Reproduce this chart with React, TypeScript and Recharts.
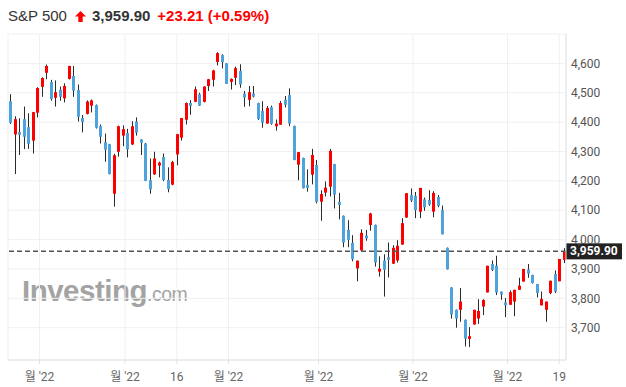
import React from 'react';
import { ComposedChart, Bar, XAxis, YAxis, CartesianGrid, ReferenceLine } from 'recharts';

// trading days, Jan 21 – Jul 20 2022
const tradingDays: [string, number[]][] = [
  ['01', [21, 24, 25, 26, 27, 28, 31]],
  ['02', [1, 2, 3, 4, 7, 8, 9, 10, 11, 14, 15, 16, 17, 18, 22, 23, 24, 25, 28]],
  ['03', [1, 2, 3, 4, 7, 8, 9, 10, 11, 14, 15, 16, 17, 18, 21, 22, 23, 24, 25, 28, 29, 30, 31]],
  ['04', [1, 4, 5, 6, 7, 8, 11, 12, 13, 14, 18, 19, 20, 21, 22, 25, 26, 27, 28, 29]],
  ['05', [2, 3, 4, 5, 6, 9, 10, 11, 12, 13, 16, 17, 18, 19, 20, 23, 24, 25, 26, 27, 31]],
  ['06', [1, 2, 3, 6, 7, 8, 9, 10, 13, 14, 15, 16, 17, 21, 22, 23, 24, 27, 28, 29, 30]],
  ['07', [1, 5, 6, 7, 8, 11, 12, 13, 14, 15, 18, 19, 20]],
];

const opens = [
  4471, 4358, 4366, 4410, 4383, 4337, 4432, 4520, 4568, 4536, 4483, 4510, 4481, 4547, 4557, 4509, 4414, 4428, 4456, 4458,
  4386, 4332, 4325, 4156, 4299, 4354, 4363, 4324, 4402, 4341, 4327, 4202, 4222, 4252, 4281, 4203, 4187, 4290, 4347, 4408,
  4465, 4469, 4495, 4469, 4523, 4544, 4605, 4628, 4600, 4537, 4551, 4574, 4497, 4476, 4497, 4465, 4438, 4395, 4451, 4386,
  4391, 4476, 4492, 4387, 4255, 4278, 4186, 4221, 4254, 4129, 4160, 4180, 4257, 4128, 4081, 4033, 3989, 3902, 3963, 4014,
  4050, 4050, 3891, 3929, 3940, 3918, 3929, 3983, 4075, 4152, 4149, 4095, 4137, 4135, 4095, 4145, 4100, 3972, 3837, 3761,
  3761, 3727, 3662, 3711, 3731, 3772, 3820, 3917, 3911, 3823, 3786, 3778, 3789, 3829, 3857, 3898, 3880, 3849, 3776, 3761,
  3818, 3883, 3858, 3931,
];
const highs = [
  4495, 4420, 4413, 4453, 4430, 4435, 4519, 4553, 4596, 4544, 4542, 4521, 4532, 4592, 4591, 4528, 4424, 4474, 4477, 4460,
  4392, 4361, 4326, 4292, 4388, 4389, 4377, 4403, 4416, 4342, 4329, 4276, 4299, 4265, 4293, 4246, 4268, 4360, 4414, 4467,
  4475, 4521, 4500, 4522, 4547, 4578, 4638, 4631, 4601, 4549, 4589, 4597, 4506, 4523, 4523, 4466, 4471, 4455, 4456, 4409,
  4472, 4489, 4515, 4388, 4298, 4279, 4239, 4309, 4271, 4168, 4198, 4309, 4258, 4159, 4082, 4066, 4015, 3929, 4035, 4033,
  4091, 4051, 3943, 3950, 3990, 3981, 3998, 4073, 4158, 4174, 4162, 4176, 4143, 4168, 4165, 4152, 4116, 3973, 3838, 3762,
  3835, 3728, 3702, 3761, 3797, 3797, 3911, 3929, 3945, 3823, 3801, 3827, 3829, 3870, 3900, 3917, 3880, 3849, 3823, 3789,
  3860, 3895, 3934, 3971,
];
const lows = [
  4394, 4223, 4288, 4308, 4309, 4293, 4416, 4486, 4546, 4473, 4453, 4473, 4467, 4545, 4486, 4402, 4365, 4426, 4433, 4378,
  4327, 4265, 4222, 4112, 4282, 4318, 4280, 4322, 4354, 4288, 4199, 4156, 4220, 4212, 4199, 4161, 4185, 4253, 4337, 4392,
  4425, 4468, 4455, 4467, 4506, 4521, 4593, 4583, 4530, 4511, 4526, 4517, 4452, 4454, 4484, 4407, 4381, 4395, 4391, 4371,
  4391, 4450, 4386, 4270, 4202, 4174, 4163, 4188, 4123, 4064, 4147, 4147, 4106, 4069, 3974, 3974, 3926, 3858, 3962, 3996,
  4030, 3908, 3874, 3806, 3871, 3917, 3922, 3982, 4074, 4128, 4073, 4073, 4098, 4115, 4076, 4110, 4018, 3898, 3731, 3700,
  3720, 3636, 3634, 3710, 3713, 3743, 3820, 3893, 3811, 3795, 3736, 3778, 3739, 3829, 3857, 3870, 3850, 3803, 3776, 3720,
  3814, 3818, 3858, 3920,
];
const closes = [
  4398, 4410, 4357, 4350, 4326, 4434, 4516, 4550, 4591, 4479, 4502, 4486, 4523, 4591, 4507, 4418, 4400, 4470, 4474, 4381,
  4350, 4306, 4223, 4287, 4386, 4376, 4307, 4386, 4364, 4330, 4200, 4171, 4276, 4262, 4203, 4172, 4264, 4359, 4414, 4465,
  4455, 4512, 4456, 4521, 4546, 4576, 4635, 4604, 4530, 4547, 4584, 4528, 4484, 4502, 4487, 4411, 4398, 4448, 4394, 4395,
  4465, 4459, 4395, 4271, 4298, 4175, 4176, 4288, 4129, 4155, 4177, 4302, 4153, 4118, 3990, 3999, 3933, 3928, 4023, 4004,
  4089, 3922, 3901, 3897, 3931, 3972, 3979, 4056, 4158, 4133, 4100, 4176, 4110, 4119, 4159, 4115, 4018, 3899, 3745, 3731,
  3789, 3663, 3671, 3761, 3757, 3794, 3911, 3897, 3820, 3813, 3776, 3821, 3829, 3843, 3900, 3884, 3852, 3818, 3798, 3789,
  3860, 3823, 3934, 3959.9,
];

const priceChange = 23.21;
const priceChangePct = 0.59;

const monthTicks = ['02-01', '03-01', '04-01', '05-02', '06-01', '07-01'];
const monthLabel = "월 '22";
const dayTicks = ['03-16', '07-19'];
const yTicks = [3700, 3800, 3900, 4000, 4100, 4200, 4300, 4400, 4500, 4600];

const dates = tradingDays.flatMap(([m, days]) => days.map((d) => `${m}-${String(d).padStart(2, '0')}`));

const data = dates.map((date, k) => ({
  i: k + 1,
  date,
  open: opens[k],
  high: highs[k],
  low: lows[k],
  close: closes[k],
  range: [lows[k], highs[k]],
}));

const tickLabels = new Map<number, string>();
monthTicks.forEach((d) => tickLabels.set(dates.indexOf(d) + 0.5, monthLabel));
dayTicks.forEach((d) => tickLabels.set(dates.indexOf(d) + 1, String(Number(d.slice(3)))));
const xTicks = Array.from(tickLabels.keys()).sort((a, b) => a - b);

const lastClose = closes[closes.length - 1];
const fmt = (v: number) => v.toLocaleString('en-US');
const priceText = lastClose.toFixed(2).replace(/\B(?=(\d{3})+(?!\d))/, ',');

const UP = '#ff0000';
const DOWN = '#4ea3dc';

const Candle = (props: any) => {
  const { x, y, width, height, payload } = props;
  if (x == null || y == null) return null;
  const top = Math.min(y, y + height);
  const bottom = Math.max(y, y + height);
  const { open, high, low, close } = payload;
  const span = high - low || 1;
  const toY = (v: number) => top + ((high - v) / span) * (bottom - top);
  const cx = Math.floor(x + width / 2) + 0.5;
  const bTop = toY(Math.max(open, close));
  const bBot = toY(Math.min(open, close));
  return (
    <g>
      <line x1={cx} x2={cx} y1={top} y2={bottom} stroke="#2b2b2b" strokeWidth={1} />
      <rect
        x={cx - 1.5}
        y={bTop}
        width={3}
        height={Math.max(1.5, bBot - bTop)}
        fill={close >= open ? UP : DOWN}
      />
    </g>
  );
};

const PriceTag = (props: any) => {
  const vb = props.viewBox || {};
  const x = (vb.x ?? 0) + (vb.width ?? 0);
  const y = vb.y ?? 0;
  return (
    <g>
      <rect x={x} y={y - 8} width={56} height={16} fill="#222" />
      <text
        x={x + 4}
        y={y + 4}
        fill="#fff"
        fontSize={12}
        fontWeight="bold"
        fontFamily="Roboto, Arial, sans-serif"
      >
        {priceText}
      </text>
    </g>
  );
};

export default function App() {
  return (
    <div style={{ position: 'absolute', left: 0, top: 0, width: 626, height: 387, background: '#fff', overflow: 'hidden' }}>
      <div
        style={{
          position: 'absolute',
          left: 8,
          top: 6,
          display: 'flex',
          alignItems: 'center',
          fontFamily: 'Arial, "Liberation Sans", sans-serif',
          fontSize: 15,
          color: '#333',
          whiteSpace: 'nowrap',
          lineHeight: '20px',
        }}
      >
        <span>S&amp;P 500</span>
        <svg width={11} height={11} viewBox="0 0 10 10" style={{ marginLeft: 8, marginRight: 6 }}>
          <path d="M5 0 L10 5 L7 5 L7 10 L3 10 L3 5 L0 5 Z" fill={UP} />
        </svg>
        <span style={{ fontWeight: 'bold' }}>{priceText}</span>
        <span style={{ fontWeight: 'bold', color: UP, marginLeft: 7 }}>
          +{priceChange.toFixed(2)} (+{priceChangePct.toFixed(2)}%)
        </span>
      </div>

      <div
        style={{
          position: 'absolute',
          left: 22,
          top: 274,
          fontFamily: 'Arial, "Liberation Sans", sans-serif',
          color: '#a3a3a3',
          whiteSpace: 'nowrap',
          letterSpacing: -0.5,
        }}
      >
        <span style={{ fontSize: 29.5, fontWeight: 'bold' }}>Investing</span>
        <span style={{ fontSize: 19.5 }}>.com</span>
      </div>

      <ComposedChart
        width={626}
        height={387}
        data={data}
        margin={{ top: 34, right: 0, bottom: 0, left: 8 }}
        style={{ position: 'absolute', left: 0, top: 0 }}
      >
        <CartesianGrid stroke="#f0f0f0" strokeWidth={1} />
        <XAxis
          dataKey="i"
          type="number"
          domain={[0.5, dates.length + 0.5]}
          ticks={xTicks}
          tickFormatter={(v: number) => tickLabels.get(v) ?? ''}
          interval={0}
          height={27}
          stroke="#e3e3e3"
          tickSize={4}
          tickMargin={8}
          tick={{ fill: '#666', fontSize: 12, fontFamily: 'Roboto, "Noto Sans CJK KR", sans-serif' }}
          allowDataOverflow
        />
        <YAxis
          orientation="right"
          domain={[3590, 4700]}
          ticks={yTicks}
          tickFormatter={fmt}
          width={60}
          stroke="#e3e3e3"
          tickLine={false}
          tickSize={0}
          tickMargin={5}
          tick={{ fill: '#555', fontSize: 12, fontFamily: 'Roboto, Arial, sans-serif' }}
          allowDataOverflow
        />
        <Bar dataKey="range" barSize={3} shape={<Candle />} isAnimationActive={false} />
        <ReferenceLine
          y={lastClose}
          stroke="#555"
          strokeWidth={1.5}
          strokeDasharray="5 3"
          label={<PriceTag />}
        />
      </ComposedChart>
    </div>
  );
}
